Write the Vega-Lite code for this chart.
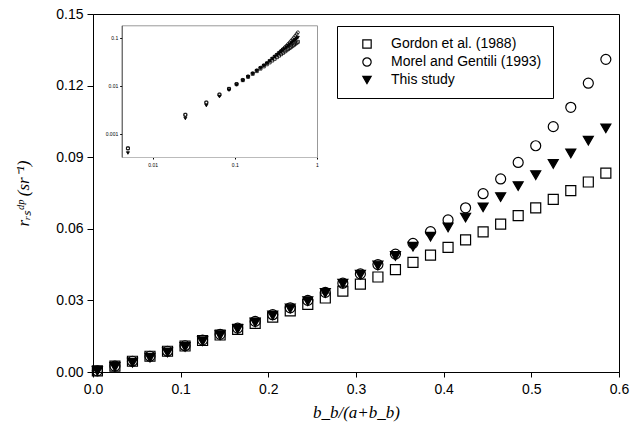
{
  "$schema": "https://vega.github.io/schema/vega-lite/v6.json",
  "autosize": {"type": "none"},
  "padding": {"left": 93, "top": 14, "right": 12, "bottom": 65},
  "width": 526,
  "height": 358,
  "background": "white",
  "config": {
    "view": {"stroke": "black", "strokeWidth": 1},
    "axis": {
      "grid": false,
      "domainColor": "black",
      "tickColor": "black",
      "labelColor": "black",
      "titleColor": "black",
      "labelFont": "Liberation Sans",
      "labelFontSize": 14,
      "titleFont": "Liberation Serif",
      "titleFontStyle": "italic",
      "titleFontWeight": "normal",
      "titleFontSize": 17
    },
    "legend": {
      "orient": "none", "legendX": 244, "legendY": 12, "strokeColor": "black", "fillColor": "white", "padding": 11,
      "labelFont": "Liberation Sans", "labelFontSize": 14, "labelColor": "black", "symbolSize": 70,
      "symbolStrokeWidth": 1.2, "symbolOffset": 12, "labelOffset": 17, "rowPadding": 4
    }
  },
  "datasets": {
    "pts": [
      {"bb": 0.005, "r": 0.0005, "s": "Gordon et al. (1988)"},
      {"bb": 0.025, "r": 0.0025, "s": "Gordon et al. (1988)"},
      {"bb": 0.045, "r": 0.0045, "s": "Gordon et al. (1988)"},
      {"bb": 0.065, "r": 0.0066, "s": "Gordon et al. (1988)"},
      {"bb": 0.085, "r": 0.0087, "s": "Gordon et al. (1988)"},
      {"bb": 0.105, "r": 0.0109, "s": "Gordon et al. (1988)"},
      {"bb": 0.125, "r": 0.0132, "s": "Gordon et al. (1988)"},
      {"bb": 0.145, "r": 0.0155, "s": "Gordon et al. (1988)"},
      {"bb": 0.165, "r": 0.0179, "s": "Gordon et al. (1988)"},
      {"bb": 0.185, "r": 0.0204, "s": "Gordon et al. (1988)"},
      {"bb": 0.205, "r": 0.0230, "s": "Gordon et al. (1988)"},
      {"bb": 0.225, "r": 0.0256, "s": "Gordon et al. (1988)"},
      {"bb": 0.245, "r": 0.0283, "s": "Gordon et al. (1988)"},
      {"bb": 0.265, "r": 0.0310, "s": "Gordon et al. (1988)"},
      {"bb": 0.285, "r": 0.0339, "s": "Gordon et al. (1988)"},
      {"bb": 0.305, "r": 0.0368, "s": "Gordon et al. (1988)"},
      {"bb": 0.325, "r": 0.0398, "s": "Gordon et al. (1988)"},
      {"bb": 0.345, "r": 0.0429, "s": "Gordon et al. (1988)"},
      {"bb": 0.365, "r": 0.0459, "s": "Gordon et al. (1988)"},
      {"bb": 0.385, "r": 0.0490, "s": "Gordon et al. (1988)"},
      {"bb": 0.405, "r": 0.0522, "s": "Gordon et al. (1988)"},
      {"bb": 0.425, "r": 0.0554, "s": "Gordon et al. (1988)"},
      {"bb": 0.445, "r": 0.0587, "s": "Gordon et al. (1988)"},
      {"bb": 0.465, "r": 0.0620, "s": "Gordon et al. (1988)"},
      {"bb": 0.485, "r": 0.0655, "s": "Gordon et al. (1988)"},
      {"bb": 0.505, "r": 0.0688, "s": "Gordon et al. (1988)"},
      {"bb": 0.525, "r": 0.0723, "s": "Gordon et al. (1988)"},
      {"bb": 0.545, "r": 0.0760, "s": "Gordon et al. (1988)"},
      {"bb": 0.565, "r": 0.0796, "s": "Gordon et al. (1988)"},
      {"bb": 0.585, "r": 0.0833, "s": "Gordon et al. (1988)"},
      {"bb": 0.005, "r": 0.0005, "s": "Morel and Gentili (1993)"},
      {"bb": 0.025, "r": 0.0025, "s": "Morel and Gentili (1993)"},
      {"bb": 0.045, "r": 0.0045, "s": "Morel and Gentili (1993)"},
      {"bb": 0.065, "r": 0.0066, "s": "Morel and Gentili (1993)"},
      {"bb": 0.085, "r": 0.0087, "s": "Morel and Gentili (1993)"},
      {"bb": 0.105, "r": 0.0110, "s": "Morel and Gentili (1993)"},
      {"bb": 0.125, "r": 0.0134, "s": "Morel and Gentili (1993)"},
      {"bb": 0.145, "r": 0.0158, "s": "Morel and Gentili (1993)"},
      {"bb": 0.165, "r": 0.0184, "s": "Morel and Gentili (1993)"},
      {"bb": 0.185, "r": 0.0212, "s": "Morel and Gentili (1993)"},
      {"bb": 0.205, "r": 0.0240, "s": "Morel and Gentili (1993)"},
      {"bb": 0.225, "r": 0.0269, "s": "Morel and Gentili (1993)"},
      {"bb": 0.245, "r": 0.0300, "s": "Morel and Gentili (1993)"},
      {"bb": 0.265, "r": 0.0334, "s": "Morel and Gentili (1993)"},
      {"bb": 0.285, "r": 0.0372, "s": "Morel and Gentili (1993)"},
      {"bb": 0.305, "r": 0.0411, "s": "Morel and Gentili (1993)"},
      {"bb": 0.325, "r": 0.0450, "s": "Morel and Gentili (1993)"},
      {"bb": 0.345, "r": 0.0494, "s": "Morel and Gentili (1993)"},
      {"bb": 0.365, "r": 0.0539, "s": "Morel and Gentili (1993)"},
      {"bb": 0.385, "r": 0.0588, "s": "Morel and Gentili (1993)"},
      {"bb": 0.405, "r": 0.0637, "s": "Morel and Gentili (1993)"},
      {"bb": 0.425, "r": 0.0688, "s": "Morel and Gentili (1993)"},
      {"bb": 0.445, "r": 0.0747, "s": "Morel and Gentili (1993)"},
      {"bb": 0.465, "r": 0.0809, "s": "Morel and Gentili (1993)"},
      {"bb": 0.485, "r": 0.0878, "s": "Morel and Gentili (1993)"},
      {"bb": 0.505, "r": 0.0948, "s": "Morel and Gentili (1993)"},
      {"bb": 0.525, "r": 0.1028, "s": "Morel and Gentili (1993)"},
      {"bb": 0.545, "r": 0.1109, "s": "Morel and Gentili (1993)"},
      {"bb": 0.565, "r": 0.1210, "s": "Morel and Gentili (1993)"},
      {"bb": 0.585, "r": 0.1310, "s": "Morel and Gentili (1993)"},
      {"bb": 0.005, "r": 0.0004, "s": "This study"},
      {"bb": 0.025, "r": 0.0021, "s": "This study"},
      {"bb": 0.045, "r": 0.0039, "s": "This study"},
      {"bb": 0.065, "r": 0.0060, "s": "This study"},
      {"bb": 0.085, "r": 0.0082, "s": "This study"},
      {"bb": 0.105, "r": 0.0105, "s": "This study"},
      {"bb": 0.125, "r": 0.0129, "s": "This study"},
      {"bb": 0.145, "r": 0.0154, "s": "This study"},
      {"bb": 0.165, "r": 0.0180, "s": "This study"},
      {"bb": 0.185, "r": 0.0208, "s": "This study"},
      {"bb": 0.205, "r": 0.0237, "s": "This study"},
      {"bb": 0.225, "r": 0.0266, "s": "This study"},
      {"bb": 0.245, "r": 0.0297, "s": "This study"},
      {"bb": 0.265, "r": 0.0331, "s": "This study"},
      {"bb": 0.285, "r": 0.0370, "s": "This study"},
      {"bb": 0.305, "r": 0.0408, "s": "This study"},
      {"bb": 0.325, "r": 0.0446, "s": "This study"},
      {"bb": 0.345, "r": 0.0486, "s": "This study"},
      {"bb": 0.365, "r": 0.0525, "s": "This study"},
      {"bb": 0.385, "r": 0.0567, "s": "This study"},
      {"bb": 0.405, "r": 0.0606, "s": "This study"},
      {"bb": 0.425, "r": 0.0647, "s": "This study"},
      {"bb": 0.445, "r": 0.0690, "s": "This study"},
      {"bb": 0.465, "r": 0.0733, "s": "This study"},
      {"bb": 0.485, "r": 0.0779, "s": "This study"},
      {"bb": 0.505, "r": 0.0825, "s": "This study"},
      {"bb": 0.525, "r": 0.0872, "s": "This study"},
      {"bb": 0.545, "r": 0.0916, "s": "This study"},
      {"bb": 0.565, "r": 0.0969, "s": "This study"},
      {"bb": 0.585, "r": 0.1021, "s": "This study"}
    ]
  },
  "data": {"name": "pts"},
  "layer": [
    {
      "mark": {"type": "point", "size": 100, "strokeWidth": 1.2, "opacity": 1},
      "encoding": {
        "x": {
          "field": "bb", "type": "quantitative",
          "scale": {"domain": [0, 0.6], "nice": false, "zero": false},
          "axis": {"orient": "bottom", "values": [0, 0.1, 0.2, 0.3, 0.4, 0.5, 0.6], "format": ".1f", "labelFlush": false, "tickSize": 5, "labelPadding": 5, "title": "b_b/(a+b_b)", "titlePadding": 8}
        },
        "y": {
          "field": "r", "type": "quantitative",
          "scale": {"domain": [0, 0.15], "nice": false},
          "axis": {"orient": "left", "values": [0, 0.03, 0.06, 0.09, 0.12, 0.15], "format": ".2f", "tickSize": 6, "labelPadding": 4, "title": "rᵣₛᵈᵖ (sr⁻¹)", "titlePadding": 23}
        },
        "shape": {
          "field": "s", "type": "nominal",
          "scale": {"domain": ["Gordon et al. (1988)", "Morel and Gentili (1993)", "This study"], "range": ["square", "circle", "triangle-down"]},
          "legend": {"title": null}
        },
        "fill": {
          "field": "s", "type": "nominal",
          "scale": {"domain": ["Gordon et al. (1988)", "Morel and Gentili (1993)", "This study"], "range": ["transparent", "transparent", "black"]},
          "legend": {"title": null}
        },
        "stroke": {
          "field": "s", "type": "nominal",
          "scale": {"domain": ["Gordon et al. (1988)", "Morel and Gentili (1993)", "This study"], "range": ["black", "black", "black"]},
          "legend": {"title": null}
        }
      }
    },
    {
      "layer": [
        {
          "mark": {"type": "point", "size": 9, "strokeWidth": 0.8, "opacity": 1},
          "encoding": {
            "x": {
              "field": "bb", "type": "quantitative",
              "scale": {"type": "log", "domain": [0.0042, 1], "range": [28.7, 224], "nice": false},
              "axis": {"orient": "bottom", "offset": -215, "values": [0.01, 0.1, 1], "format": "~g", "labelFontSize": 5, "labelFlush": false, "tickSize": 2, "labelPadding": 3, "title": null, "domainColor": "#bbbbbb"}
            },
            "y": {
              "field": "r", "type": "quantitative",
              "scale": {"type": "log", "domain": [0.00033, 0.184], "range": [143, 11.3], "nice": false},
              "axis": {"orient": "left", "offset": -28.7, "values": [0.001, 0.01, 0.1], "format": "~g", "labelFontSize": 5, "tickSize": 2, "labelPadding": 2, "title": null, "domainColor": "#333333"}
            },
            "shape": {"field": "s", "type": "nominal", "legend": null},
            "fill": {"field": "s", "type": "nominal", "legend": null},
            "stroke": {"field": "s", "type": "nominal", "legend": null}
          }
        },
        {
          "mark": {"type": "point", "opacity": 0},
          "encoding": {
            "x": {"field": "bb", "type": "quantitative", "axis": {"orient": "top", "offset": -11.3, "labels": false, "ticks": false, "title": null, "domainColor": "#999999"}},
            "y": {"field": "r", "type": "quantitative", "axis": {"orient": "right", "offset": -302, "labels": false, "ticks": false, "title": null, "domainColor": "#999999"}}
          }
        }
      ],
      "resolve": {"axis": {"x": "independent", "y": "independent"}}
    }
  ],
  "resolve": {"scale": {"x": "independent", "y": "independent"}, "axis": {"x": "independent", "y": "independent"}}
}
